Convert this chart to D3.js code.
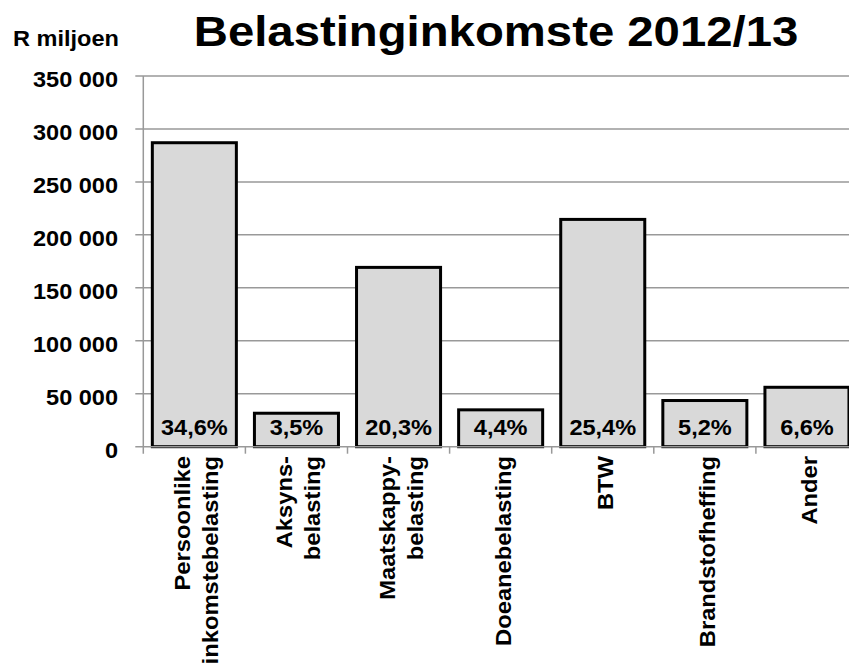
<!DOCTYPE html>
<html>
<head>
<meta charset="utf-8">
<script src="https://cdn.jsdelivr.net/npm/d3@7"></script>
<style>
  html, body { margin: 0; padding: 0; background: #fff; }
  svg { display: block; font-family: "Liberation Sans", Arial, sans-serif; font-weight: bold; }
</style>
</head>
<body>
<svg id="chart" width="849" height="666"></svg>
<script>
const categories = [
  ["Persoonlike", "inkomstebelasting"],
  ["Aksyns-", "belasting"],
  ["Maatskappy-", "belasting"],
  ["Doeanebelasting"],
  ["BTW"],
  ["Brandstofheffing"],
  ["Ander"]
];
const values = [287000, 31600, 169300, 34800, 214600, 43600, 56100];
const shares = ["34,6%", "3,5%", "20,3%", "4,4%", "25,4%", "5,2%", "6,6%"];
const yTicks = [0, 50000, 100000, 150000, 200000, 250000, 300000, 350000];
const titleText = "Belastinginkomste 2012/13";
const unitText = "R miljoen";

const svg = d3.select("#chart");
const pLeft = 143.3, pTop = 76, pBottom = 446.7, step = 102.1;
const keys = categories.map(c => c.join(" "));

const x = d3.scaleBand().domain(keys)
  .range([pLeft, pLeft + step * keys.length])
  .paddingInner(0.177).paddingOuter(0.0885);
const y = d3.scaleLinear().domain([0, 350000]).range([pBottom, pTop]);

const fmt = v => v === 0 ? "0" : d3.format(",")(v).replace(/,/g, " ");
const sx = 1.07;

// gridlines
svg.append("g").selectAll("line").data(yTicks.filter(d => d > 0)).join("line")
  .attr("x1", pLeft - 8).attr("x2", 849)
  .attr("y1", d => y(d)).attr("y2", d => y(d))
  .attr("stroke", "#999").attr("stroke-width", 1.5);

// y axis line and zero tick
svg.append("line").attr("x1", pLeft).attr("x2", pLeft).attr("y1", pTop).attr("y2", pBottom + 7)
  .attr("stroke", "#999").attr("stroke-width", 1.5);

// bars
svg.append("g").selectAll("rect").data(values).join("rect")
  .attr("x", (d, i) => x(keys[i]))
  .attr("y", d => y(d))
  .attr("width", x.bandwidth())
  .attr("height", d => pBottom - y(d))
  .attr("fill", "#d9d9d9").attr("stroke", "#000").attr("stroke-width", 3);

// x axis line
svg.append("line").attr("x1", pLeft - 8).attr("x2", 849).attr("y1", pBottom).attr("y2", pBottom)
  .attr("stroke", "#999").attr("stroke-width", 1.5);
// category boundary ticks
svg.append("g").selectAll("line").data(d3.range(1, keys.length + 1)).join("line")
  .attr("x1", i => pLeft + step * i).attr("x2", i => pLeft + step * i)
  .attr("y1", pBottom).attr("y2", pBottom + 7)
  .attr("stroke", "#999").attr("stroke-width", 1.5);

// y tick labels
svg.append("g").selectAll("text").data(yTicks).join("text")
  .attr("transform", d => `translate(118,${y(d) + 11}) scale(${sx},1)`)
  .attr("text-anchor", "end").attr("font-size", 22).text(fmt);

// percent labels
svg.append("g").selectAll("text").data(shares).join("text")
  .attr("transform", (d, i) => `translate(${x(keys[i]) + x.bandwidth() / 2},${pBottom - 11.5}) scale(${sx},1)`)
  .attr("text-anchor", "middle").attr("font-size", 22).text(d => d);

// category labels (rotated)
const lineGap = 28;
const cg = svg.append("g").selectAll("text").data(categories).join("text")
  .attr("transform", (d, i) => `translate(${x(keys[i]) + x.bandwidth() / 2},456) rotate(-90) scale(1.08,1)`)
  .attr("text-anchor", "end").attr("font-size", 22);
cg.each(function(lines) {
  const t = d3.select(this);
  lines.forEach((ln, j) => {
    t.append("tspan").attr("x", 0)
      .attr("y", 2 + 8 + (j - (lines.length - 1) / 2) * lineGap)
      .text(ln);
  });
});

// unit label
svg.append("text").attr("transform", `translate(13,46) scale(${sx},1)`)
  .attr("font-size", 22).text(unitText);

// title
svg.append("text").attr("transform", `translate(496,46) scale(1.1,1)`)
  .attr("text-anchor", "middle").attr("font-size", 43).text(titleText);
</script>
</body>
</html>
